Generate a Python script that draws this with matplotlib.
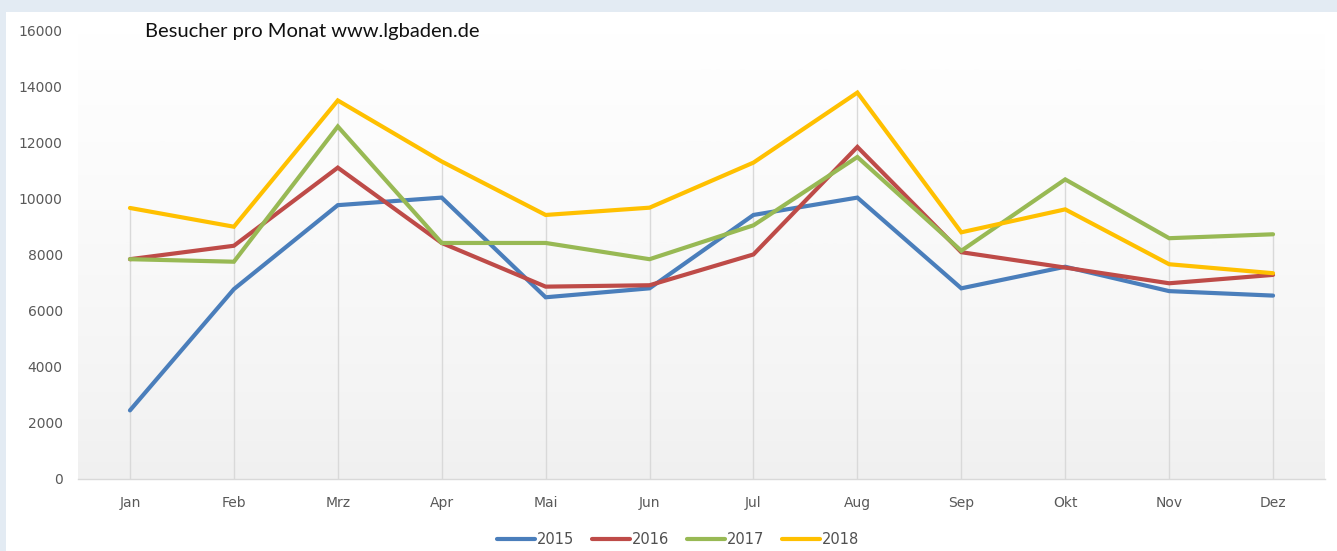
import numpy as np
import matplotlib
matplotlib.use("Agg")
import matplotlib.pyplot as plt
from matplotlib.patches import Rectangle
from matplotlib.colors import LinearSegmentedColormap

months = ["Jan", "Feb", "Mrz", "Apr", "Mai", "Jun", "Jul", "Aug", "Sep", "Okt", "Nov", "Dez"]
years = ["2015", "2016", "2017", "2018"]
v2015 = [2450, 6780, 9780, 10050, 6490, 6810, 9430, 10050, 6810, 7580, 6710, 6550]
v2016 = [7850, 8330, 11120, 8430, 6870, 6920, 8020, 11860, 8100, 7550, 6990, 7290]
v2017 = [7850, 7760, 12590, 8430, 8430, 7850, 9060, 11500, 8150, 10700, 8600, 8740]
v2018 = [9680, 9010, 13520, 11340, 9430, 9690, 11300, 13800, 8810, 9630, 7670, 7350]
yticks = [0, 2000, 4000, 6000, 8000, 10000, 12000, 14000, 16000]
title = "Besucher pro Monat www.lgbaden.de"

colors = ["#4a7ebb", "#be4b48", "#98b954", "#ffc000"]
series = [v2015, v2016, v2017, v2018]

W, H = 1337, 551
fig = plt.figure(figsize=(W / 100, H / 100), dpi=100, facecolor="white")
# light blue frame strips
fig.patches.append(Rectangle((0, 1 - 12 / H), 1, 12 / H, transform=fig.transFigure,
                             facecolor="#e3ebf3", edgecolor="none", zorder=0))
fig.patches.append(Rectangle((0, 0), 6 / W, 1, transform=fig.transFigure,
                             facecolor="#e3ebf3", edgecolor="none", zorder=0))

left, right = 78 / W, 1325 / W
bottom, top = 1 - 479 / H, 1 - 31 / H
ax = fig.add_axes([left, bottom, right - left, top - bottom])
ax.set_facecolor("none")

x = np.arange(len(months))

# gradient background
grad = np.linspace(0, 1, 256).reshape(-1, 1) ** 0.8
cmap = LinearSegmentedColormap.from_list("g", ["#f0f0f0", "#ffffff"])
ax.imshow(grad, extent=(-0.5, len(months) - 0.5, 0, 16000), origin="lower",
          aspect="auto", cmap=cmap, zorder=0)
ax.set_xlim(-0.5, len(months) - 0.5)
ax.set_ylim(0, 16000)

# drop lines
maxv = np.max(np.array(series), axis=0)
ax.vlines(x, 0, maxv, colors="#d9d9d9", linewidth=1.0, zorder=1)

for name, vals, c in zip(years, series, colors):
    ax.plot(x, vals, color=c, linewidth=3.0, label=name, zorder=3,
            solid_joinstyle="miter", solid_capstyle="round")

for s in ["top", "right", "left"]:
    ax.spines[s].set_visible(False)
ax.spines["bottom"].set_color("#d9d9d9")
ax.spines["bottom"].set_linewidth(1.0)

ax.set_xticks(x)
ax.set_xticklabels(months)
ax.set_yticks(yticks)
ax.set_yticklabels([str(t) for t in yticks])
ax.tick_params(axis="both", length=0, colors="#595959", labelsize=10)
ax.tick_params(axis="x", pad=12)
ax.tick_params(axis="y", pad=11)

fig.text(145 / W, 1 - 32 / H, title, fontsize=14.5, family="Lato", color="#111111",
         ha="left", va="center")

leg = fig.legend(loc="center", bbox_to_anchor=(678 / W, 1 - 540 / H), ncol=4, frameon=False,
                 fontsize=10.5, handlelength=2.6, handletextpad=0.15, columnspacing=1.2)
for t in leg.get_texts():
    t.set_color("#505050")

fig.savefig("out.png", dpi=100, facecolor="white")
